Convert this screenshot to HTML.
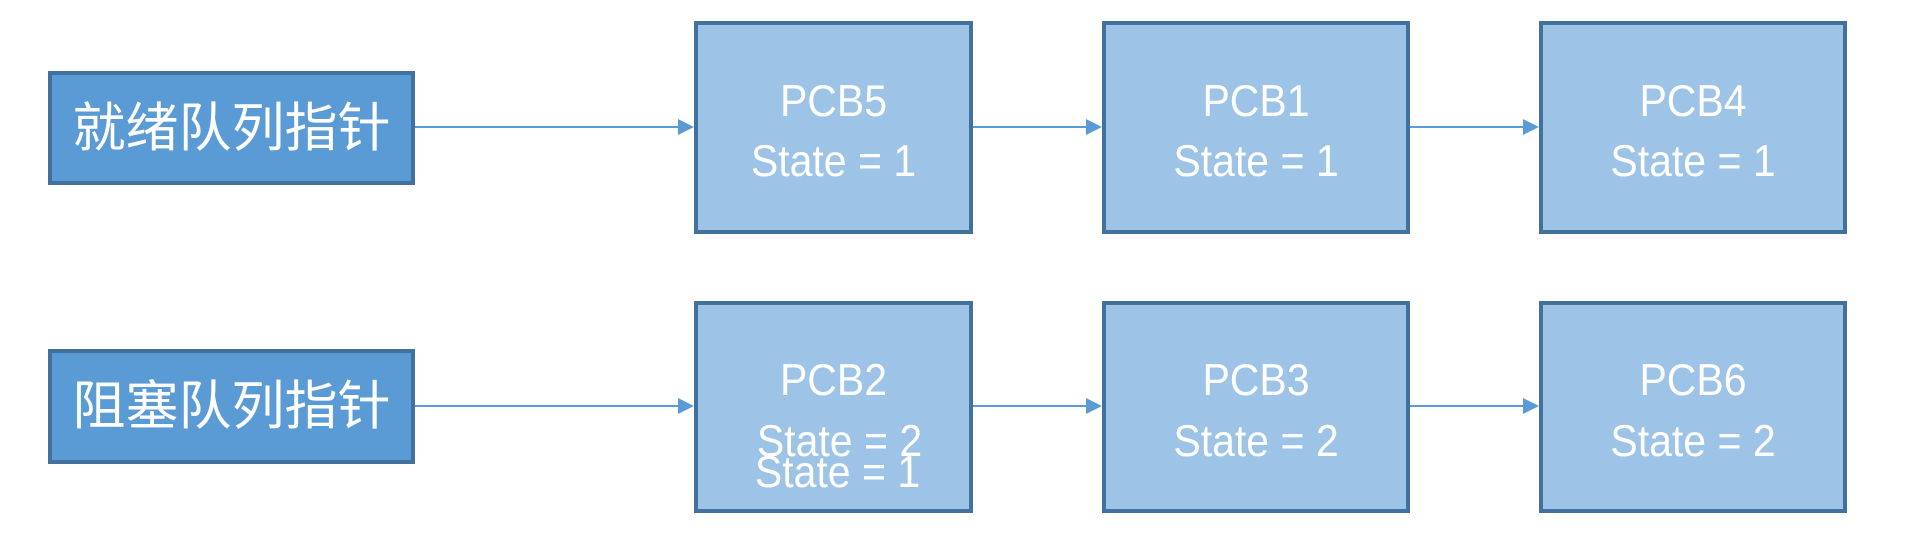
<!DOCTYPE html>
<html><head><meta charset="utf-8"><style>
html,body{margin:0;padding:0;background:#fff;}
body{width:1918px;height:536px;position:relative;overflow:hidden;font-family:"Liberation Sans","Noto Sans CJK SC",sans-serif;}
.b{position:absolute;box-sizing:border-box;border:4px solid #41719c;color:#fff;}
.l{background:#5b9bd5;}
.p{background:#9dc3e6;}
.t{position:absolute;left:0;right:0;text-align:center;line-height:1;white-space:nowrap;}
.cn{font-size:53px;top:27px;}
.pc{font-size:41px;transform:scaleY(1.08);}
</style></head><body>
<div class="b l" style="left:48px;top:71px;width:367px;height:114px;"><div class="t cn">就绪队列指针</div></div>
<div class="b l" style="left:48px;top:349px;width:367px;height:115px;"><div class="t cn">阻塞队列指针</div></div>

<div class="b p" style="left:694px;top:21px;width:279px;height:213px;"><div class="t pc" style="top:56px">PCB5</div><div class="t pc" style="top:116px">State = 1</div></div>
<div class="b p" style="left:1102px;top:21px;width:308px;height:213px;"><div class="t pc" style="top:56px">PCB1</div><div class="t pc" style="top:116px">State = 1</div></div>
<div class="b p" style="left:1539px;top:21px;width:308px;height:213px;"><div class="t pc" style="top:56px">PCB4</div><div class="t pc" style="top:116px">State = 1</div></div>

<div class="b p" style="left:694px;top:301px;width:279px;height:212px;"><div class="t pc" style="top:55px">PCB2</div><div class="t pc" style="top:116px;left:12px">State = 2</div><div class="t pc" style="top:147px;left:8px">State = 1</div></div>
<div class="b p" style="left:1102px;top:301px;width:308px;height:212px;"><div class="t pc" style="top:55px">PCB3</div><div class="t pc" style="top:116px">State = 2</div></div>
<div class="b p" style="left:1539px;top:301px;width:308px;height:212px;"><div class="t pc" style="top:55px">PCB6</div><div class="t pc" style="top:116px">State = 2</div></div>

<svg width="1918" height="536" style="position:absolute;left:0;top:0" xmlns="http://www.w3.org/2000/svg">
<g stroke="#5b9bd5" stroke-width="2">
<line x1="415" y1="127" x2="684" y2="127"/>
<line x1="973" y1="127" x2="1092" y2="127"/>
<line x1="1410" y1="127" x2="1529" y2="127"/>
<line x1="415" y1="406" x2="684" y2="406"/>
<line x1="973" y1="406" x2="1092" y2="406"/>
<line x1="1410" y1="406" x2="1529" y2="406"/>
</g>
<g fill="#5b9bd5">
<polygon points="678,119 694,127 678,135"/>
<polygon points="1086,119 1102,127 1086,135"/>
<polygon points="1523,119 1539,127 1523,135"/>
<polygon points="678,398 694,406 678,414"/>
<polygon points="1086,398 1102,406 1086,414"/>
<polygon points="1523,398 1539,406 1523,414"/>
</g>
</svg>
</body></html>
